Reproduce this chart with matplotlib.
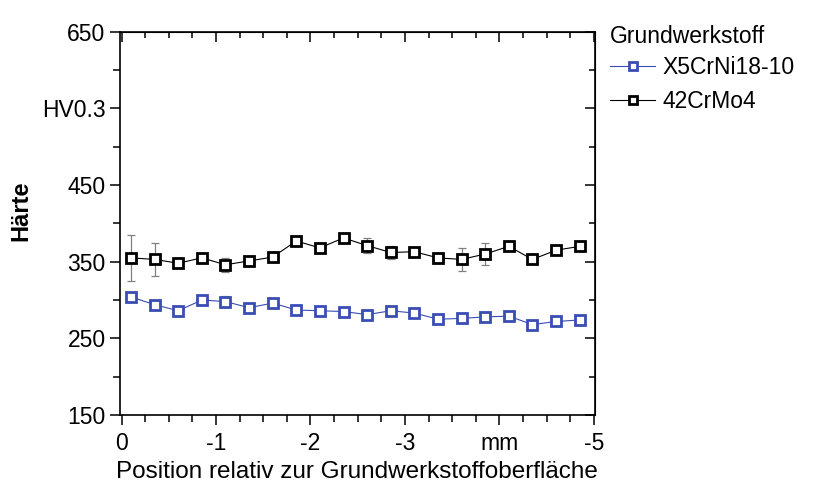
import numpy as np
import matplotlib.pyplot as plt
from matplotlib.ticker import MultipleLocator, FixedLocator

plt.rcParams['font.family'] = ['Liberation Sans', 'DejaVu Sans']

# measurement positions (mm below the base material surface)
pos = [-0.1, -0.35, -0.6, -0.85, -1.1, -1.35, -1.6, -1.85, -2.1, -2.35,
       -2.6, -2.85, -3.1, -3.35, -3.6, -3.85, -4.1, -4.35, -4.6, -4.85]

# hardness HV0.3
hv_crmo = [355, 353, 348, 355, 346, 351, 356, 377, 368, 381,
           371, 362, 363, 355, 353, 360, 370, 353, 365, 370]
err_crmo = [30, 22, 4, 4, 9, 4, 4, 5, 4, 4,
            10, 8, 5, 4, 15, 14, 4, 4, 4, 4]

hv_crni = [304, 294, 286, 300, 298, 290, 296, 287, 286, 285,
           281, 286, 283, 275, 276, 278, 279, 268, 272, 274]
err_crni = [4, 4, 3, 6, 7, 3, 6, 3, 3, 3,
            3, 3, 4, 5, 3, 3, 3, 5, 3, 3]

blue = '#3a4db3'

fig = plt.figure(figsize=(8.17, 4.84), dpi=100)
ax = fig.add_axes([0.147, 0.1425, 0.581, 0.792])

series = [(hv_crni, err_crni, blue, '#8f9ad0', 'X5CrNi18-10'),
          (hv_crmo, err_crmo, 'black', '#808080', '42CrMo4')]
handles = []
for hv, err, c, ec, name in series:
    ax.errorbar(pos, hv, yerr=err, fmt='none', ecolor=ec, elinewidth=0.9,
                capsize=3, capthick=0.9)
    ln, = ax.plot(pos, hv, color=c, lw=0.8, marker='s', ms=7.8,
                  mfc='white', mec=c, mew=2.0, label=name)
    handles.append(ln)

ax.set_xlim(0.015, -5.01)
ax.set_ylim(150, 650)

ax.xaxis.set_major_locator(FixedLocator([0, -1, -2, -3, -4, -5]))
ax.set_xticklabels(['0', '-1', '-2', '-3', 'mm', '-5'])
ax.xaxis.set_minor_locator(MultipleLocator(0.25))
ax.yaxis.set_major_locator(FixedLocator([150, 250, 350, 450, 550, 650]))
ax.set_yticklabels(['150', '250', '350', '450', 'HV0.3', '650'])
ax.yaxis.set_minor_locator(MultipleLocator(50))

ax.tick_params(which='both', labelsize=16.5, width=1.1, color='black')
ax.tick_params(axis='x', pad=5)
ax.tick_params(which='major', length=7, direction='out')
ax.tick_params(which='minor', length=5, direction='out')
for s in ax.spines.values():
    s.set_linewidth(1.2)

# ticks on the top and right side, pointing inwards, no labels
top = ax.secondary_xaxis('top')
top.set_xticks([0, -1, -2, -3, -4, -5])
top.xaxis.set_minor_locator(MultipleLocator(0.25))
top.tick_params(which='major', direction='in', length=7, width=1.1, labeltop=False)
top.tick_params(which='minor', direction='in', length=4, width=1.1)
right = ax.secondary_yaxis('right')
right.set_yticks([150, 250, 350, 450, 550, 650])
right.yaxis.set_minor_locator(MultipleLocator(50))
right.tick_params(which='major', direction='in', length=7, width=1.1, labelright=False)
right.tick_params(which='minor', direction='in', length=4, width=1.1)

ax.set_xlabel('Position relativ zur Grundwerkstoffoberfläche', fontsize=17.5,
              va='center')
ax.xaxis.set_label_coords(0.499, -0.148)
ax.set_ylabel('Härte', fontsize=17, fontweight='bold', va='center', ha='center')
ax.yaxis.set_label_coords(-0.21, 0.533)

leg = fig.legend(handles, [h.get_label() for h in handles], title='Grundwerkstoff',
                 loc='upper left', bbox_to_anchor=(0.735, 0.968), frameon=False,
                 fontsize=16.5, title_fontsize=16.5, handlelength=2.0,
                 handletextpad=0.3, labelspacing=0.35, markerscale=0.75,
                 borderaxespad=0)
leg._legend_box.align = 'left'
leg._legend_box._children[1]._children[0].sep = 8

fig.savefig('out.png', dpi=100)
